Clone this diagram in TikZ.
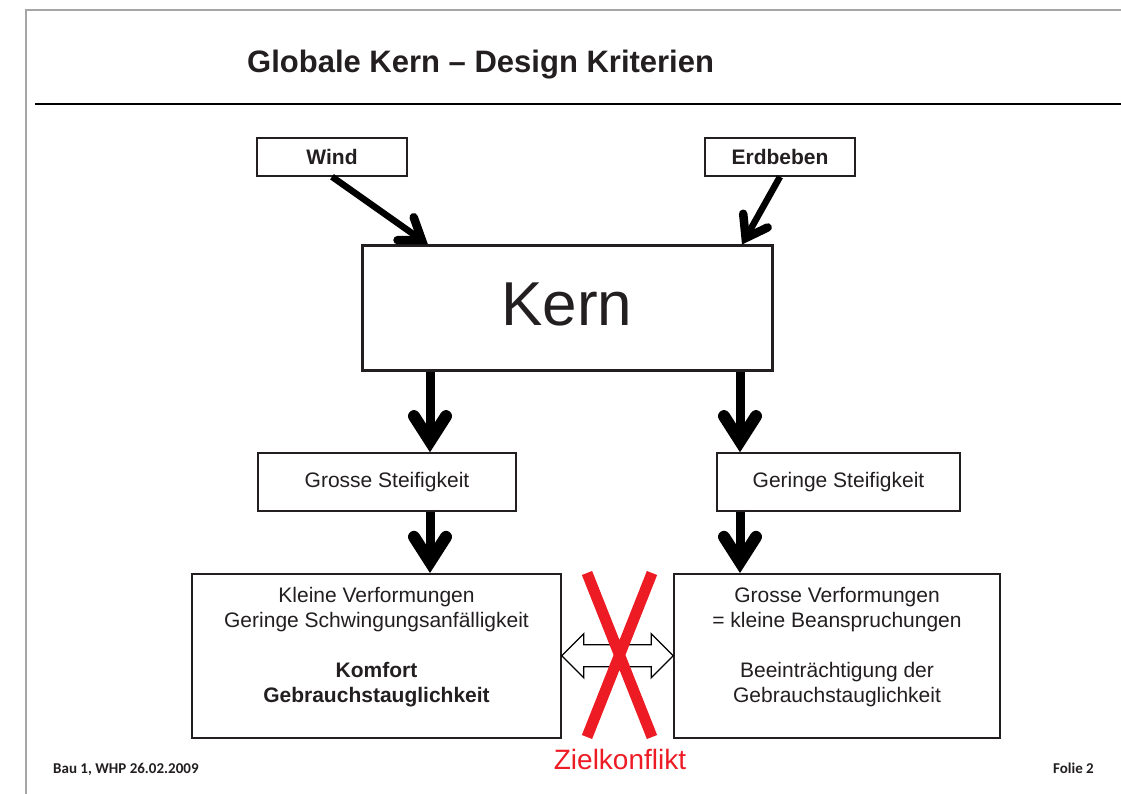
\documentclass[tikz,border=0pt]{standalone}
\usepackage{fontspec}
\setmainfont{Liberation Sans}
\newfontfamily\footfont{Carlito}
\usetikzlibrary{calc,backgrounds,arrows.meta,positioning}
\definecolor{textgrey}{HTML}{231F20}
\definecolor{framegrey}{HTML}{A6A6A6}
\definecolor{conflictred}{HTML}{ED1C24}

\begin{document}
\begin{tikzpicture}[%
    x=1pt, y=-1pt,%
    show background rectangle,%
    tight background,%
    background rectangle/.style={fill=white}%
  ]
  % Folie 1121 x 794

  %
  % Définitions
  %
  \tikzset{
    box/.style={draw=textgrey, line width=1.5pt, text=textgrey, inner sep=0pt,
      font=\fontsize{21}{25}\selectfont},
    loadbox/.style={box, minimum width=150, minimum height=38,
      font=\bfseries\fontsize{21}{25}\selectfont},
    stiffbox/.style={box, minimum height=58},
    effectbox/.style={box, anchor=north, minimum height=164, align=center,
      inner ysep=13.7pt, text depth=21.3pt},
    loadarrow/.style={draw=black, line width=6.5pt,
      -{Straight Barb[length=20pt, width=28pt, line width=8.5pt, line cap=round]}},
    bigarrow/.style={draw=black, line width=9pt,
      -{Straight Barb[length=25pt, width=32pt, line width=12pt, line cap=round]}},
    conflict/.style={draw=conflictred, line width=11pt},
  }
  \pgfmathsetmacro{\xwind}{332};%
  \pgfmathsetmacro{\xquake}{780};%
  \pgfmathsetmacro{\xkern}{567};%
  \pgfmathsetmacro{\xl}{430};%
  \pgfmathsetmacro{\xr}{740};%

  \pgfmathsetmacro{\yload}{157};%
  \pgfmathsetmacro{\ykern}{308};%
  \pgfmathsetmacro{\ystiff}{482};%
  \pgfmathsetmacro{\yeffect}{573};%

  \useasboundingbox (0,0) rectangle (1121,794);

  %
  % Dessin
  %
  % Cadre et titre
  \draw[framegrey, line width=1.5pt] (26,794) -- (26,10) -- (1121,10);%
  \draw[black, line width=2pt] (35,104) -- (1121,104);%
  \node[anchor=base west, inner sep=0pt, text=textgrey,
    font=\bfseries\fontsize{31}{36}\selectfont] (titre) at (247,73)
    {Globale Kern \textendash{} Design Kriterien};%

  % Einwirkungen
  \node[loadbox] (wind) at (\xwind,\yload) {Wind};%
  \node[loadbox] (erdbeben) at (\xquake,\yload) {Erdbeben};%

  % Kern
  \node[box, line width=3pt, minimum width=410, minimum height=124,
    text depth=8pt, font=\fontsize{62}{70}\selectfont] (kern) at (\xkern,\ykern) {Kern};%

  % Steifigkeit
  \node[stiffbox, minimum width=258] (grosse) at (387,\ystiff) {Grosse Steifigkeit};%
  \node[stiffbox, minimum width=243] (geringe) at (838.5,\ystiff) {Geringe Steifigkeit};%

  % Folgen
  \node[effectbox, minimum width=369] (lbox) at (376.5,\yeffect)
    {Kleine Verformungen\\Geringe Schwingungsanfälligkeit\\[25pt]%
     \textbf{Komfort}\\\textbf{Gebrauchstauglichkeit}};%
  \node[effectbox, minimum width=326] (rbox) at (837,\yeffect)
    {Grosse Verformungen\\= kleine Beanspruchungen\\[25pt]%
     Beeinträchtigung der\\Gebrauchstauglichkeit};%

  % Pfeile
  \coordinate (al) at (\xl,0);%
  \coordinate (ar) at (\xr,0);%
  \coordinate (wt) at (428,0);%
  \coordinate (et) at (742,0);%
  \draw[loadarrow] (wind.south) -- (kern.north -| wt);%
  \draw[loadarrow] (erdbeben.south) -- (kern.north -| et);%
  \draw[bigarrow] (kern.south -| al) -- (grosse.north -| al);%
  \draw[bigarrow] (kern.south -| ar) -- (geringe.north -| ar);%
  \draw[bigarrow] (grosse.south -| al) -- (lbox.north -| al);%
  \draw[bigarrow] (geringe.south -| ar) -- (rbox.north -| ar);%

  % Doppelpfeil
  \draw[black, fill=white, line width=1.3pt, line join=miter]
    (lbox.east) -- ++(22,-22) -- ++(0,11) -- ($(rbox.west)+(-22,-11)$)
    -- ++(0,-11) -- (rbox.west) -- ++(-22,22) -- ++(0,-11)
    -- ($(lbox.east)+(22,11)$) -- ++(0,11) -- cycle;%

  % Zielkonflikt
  \coordinate (xa) at (587,573);%
  \coordinate (xb) at (652,737);%
  \coordinate (xc) at (652,573);%
  \coordinate (xd) at (587,737);%
  \draw[conflict] (xa) -- (xb) (xc) -- (xd);%
  \node[anchor=base, inner sep=0pt, text=conflictred,
    font=\fontsize{28}{30}\selectfont] (ziel) at (620,769) {Zielkonflikt};%

  % Fusszeile
  \node[anchor=base west, inner sep=0pt, text=textgrey,
    font=\footfont\bfseries\fontsize{15}{18}\selectfont] (bau) at (53,773)
    {Bau 1, WHP 26.02.2009};%
  \node[anchor=base east, inner sep=0pt, text=textgrey,
    font=\footfont\bfseries\fontsize{15}{18}\selectfont] (folie) at (1094,773)
    {Folie 2};%

\end{tikzpicture}
\end{document}
